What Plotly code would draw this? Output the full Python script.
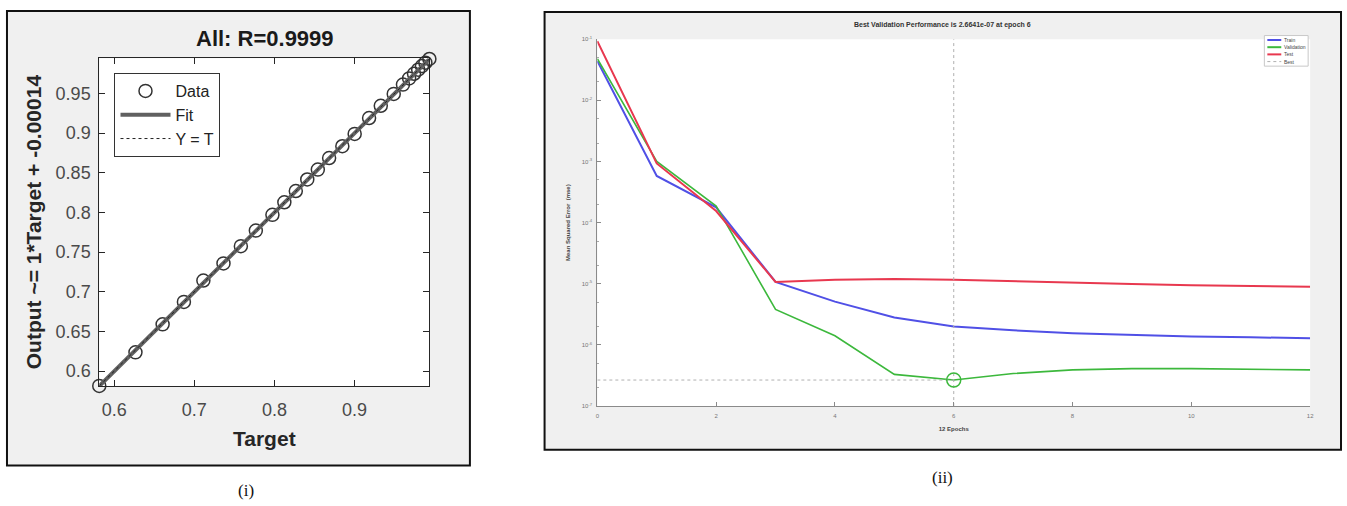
import plotly.graph_objects as go

W, H = 1347, 506

# ---------------- data: panel (i) regression ----------------
targets = [0.5813, 0.6265, 0.6604, 0.6870, 0.7113, 0.7364, 0.7581, 0.7768, 0.7975,
           0.8124, 0.8267, 0.8410, 0.8542, 0.8683, 0.8848, 0.9002, 0.9182, 0.9328,
           0.9490, 0.9605, 0.9682, 0.9743, 0.9795, 0.9842, 0.9885, 0.9935]
outputs = [0.5813, 0.6237, 0.6590, 0.6872, 0.7142, 0.7358, 0.7575, 0.7771, 0.7970,
           0.8128, 0.8270, 0.8416, 0.8540, 0.8686, 0.8835, 0.8990, 0.9190, 0.9345,
           0.9494, 0.9612, 0.9690, 0.9748, 0.9800, 0.9845, 0.9888, 0.9935]
fit_slope = 1.0
fit_offset = -0.00014
r_value = "0.9999"
left_xticks = [0.6, 0.7, 0.8, 0.9]
left_yticks = [0.6, 0.65, 0.7, 0.75, 0.8, 0.85, 0.9, 0.95]

# ---------------- data: panel (ii) performance ----------------
epochs = list(range(13))
train_mse = [4.4e-2, 5.8e-4, 1.78e-4, 1.07e-5, 5.1e-6, 2.8e-6, 2.0e-6, 1.73e-6,
             1.55e-6, 1.44e-6, 1.37e-6, 1.33e-6, 1.29e-6]
val_mse = [4.8e-2, 1.0e-3, 1.87e-4, 3.8e-6, 1.41e-6, 3.3e-7, 2.6641e-7, 3.4e-7,
           3.9e-7, 4.1e-7, 4.1e-7, 4.0e-7, 3.9e-7]
test_mse = [9.3e-2, 9.3e-4, 1.55e-4, 1.07e-5, 1.16e-5, 1.2e-5, 1.16e-5, 1.1e-5,
            1.02e-5, 9.9e-6, 9.5e-6, 9.1e-6, 8.9e-6]
best_epoch = 6
best_perf = 2.6641e-7
right_xticks = [0, 2, 4, 6, 8, 10, 12]
right_yexp = [-7, -6, -5, -4, -3, -2, -1]
perf_names = ["Train", "Validation", "Test", "Best"]

FONT = "Liberation Sans, Arial, sans-serif"
C_TRAIN, C_VAL, C_TEST, C_BEST = "#5050e6", "#3cb83c", "#e8384f", "#b0b0b0"


def px(x):
    return x / W


def py(y):
    return 1 - y / H


fig = go.Figure()

# ---- panel (i) traces ----
xmin, xmax = min(targets), max(targets)
fit_x = [xmin, xmax]
fit_y = [fit_slope * v + fit_offset for v in fit_x]

fig.add_trace(go.Scatter(x=targets, y=outputs, mode="markers", name="Data",
                         marker=dict(symbol="circle-open", size=13, color="#333333",
                                     line=dict(width=1.5)),
                         cliponaxis=False, xaxis="x", yaxis="y"))
fig.add_trace(go.Scatter(x=fit_x, y=fit_y, mode="lines", name="Fit",
                         line=dict(color="#606060", width=4),
                         xaxis="x", yaxis="y"))
fig.add_trace(go.Scatter(x=fit_x, y=fit_x, mode="lines", name="Y = T",
                         line=dict(color="#222222", width=1, dash="dot"),
                         xaxis="x", yaxis="y"))

# ---- panel (ii) traces ----
fig.add_trace(go.Scatter(x=epochs, y=train_mse, mode="lines", name=perf_names[0],
                         line=dict(color=C_TRAIN, width=2), showlegend=False,
                         xaxis="x2", yaxis="y2"))
fig.add_trace(go.Scatter(x=epochs, y=val_mse, mode="lines", name=perf_names[1],
                         line=dict(color=C_VAL, width=1.6), showlegend=False,
                         xaxis="x2", yaxis="y2"))
fig.add_trace(go.Scatter(x=epochs, y=test_mse, mode="lines", name=perf_names[2],
                         line=dict(color=C_TEST, width=2), showlegend=False,
                         xaxis="x2", yaxis="y2"))
fig.add_trace(go.Scatter(x=[0, best_epoch], y=[best_perf, best_perf], mode="lines",
                         name=perf_names[3], line=dict(color=C_BEST, width=1, dash="dot"),
                         showlegend=False, xaxis="x2", yaxis="y2"))
fig.add_trace(go.Scatter(x=[best_epoch, best_epoch],
                         y=[10 ** right_yexp[0], 10 ** right_yexp[-1]], mode="lines",
                         showlegend=False, line=dict(color=C_BEST, width=1, dash="dot"),
                         xaxis="x2", yaxis="y2"))
fig.add_trace(go.Scatter(x=[best_epoch], y=[best_perf], mode="markers", showlegend=False,
                         marker=dict(symbol="circle-open", size=14, color=C_VAL,
                                     line=dict(width=1.5)),
                         xaxis="x2", yaxis="y2"))

# ---- panel backgrounds (gray boxes with black border) and white plot areas ----
shapes = [
    dict(type="rect", xref="paper", yref="paper", x0=px(5), x1=px(470), y0=py(468), y1=py(7),
         fillcolor="#f0f0f0", line=dict(color="#111111", width=2), layer="below"),
    dict(type="rect", xref="paper", yref="paper", x0=px(545), x1=px(1345), y0=py(452), y1=py(8),
         fillcolor="#f0f0f0", line=dict(color="#111111", width=2), layer="below"),
    dict(type="rect", xref="x domain", yref="y domain", x0=0, x1=1, y0=0, y1=1,
         fillcolor="white", line=dict(width=0), layer="below"),
    dict(type="rect", xref="x2 domain", yref="y2 domain", x0=0, x1=1, y0=0, y1=1,
         fillcolor="white", line=dict(width=0), layer="below"),
]

annotations = [
    dict(text="<b>All: R=" + r_value + "</b>", xref="paper", yref="paper", x=px(264), y=py(35),
         showarrow=False, font=dict(family=FONT, size=22, color="#1a1a1a"),
         xanchor="center", yanchor="middle"),
    dict(text="<b>Best Validation Performance is 2.6641e-07 at epoch 6</b>", xref="paper",
         yref="paper", x=px(945), y=py(21), showarrow=False,
         font=dict(family=FONT, size=7, color="#333333"), xanchor="center", yanchor="middle"),
    dict(text="(i)", xref="paper", yref="paper", x=px(245), y=py(493), showarrow=False,
         font=dict(family="Liberation Serif, Times New Roman, serif", size=17, color="#111111"),
         xanchor="center", yanchor="middle"),
    dict(text="(ii)", xref="paper", yref="paper", x=px(945), y=py(480), showarrow=False,
         font=dict(family="Liberation Serif, Times New Roman, serif", size=17, color="#111111"),
         xanchor="center", yanchor="middle"),
]

# ---- compact legend for panel (ii) (MATLAB-style tiny box) ----
leg_x0, leg_x1, leg_y0, leg_y1 = 1268, 1312, 32, 63
shapes.append(dict(type="rect", xref="paper", yref="paper", x0=px(leg_x0), x1=px(leg_x1),
                   y0=py(leg_y1), y1=py(leg_y0), fillcolor="white",
                   line=dict(color="#c8c8c8", width=1), layer="above"))
leg_styles = [(C_TRAIN, 2, "solid"), (C_VAL, 2, "solid"), (C_TEST, 2, "solid"), (C_BEST, 1, "dot")]
for i, (name, (col, wdt, dsh)) in enumerate(zip(perf_names, leg_styles)):
    yy = leg_y0 + 4.5 + i * 7.3
    shapes.append(dict(type="line", xref="paper", yref="paper", x0=px(leg_x0 + 3),
                       x1=px(leg_x0 + 17), y0=py(yy), y1=py(yy),
                       line=dict(color=col, width=wdt, dash=dsh), layer="above"))
    annotations.append(dict(text=name, xref="paper", yref="paper", x=px(leg_x0 + 18), y=py(yy),
                            showarrow=False, xanchor="left", yanchor="middle",
                            font=dict(family=FONT, size=5, color="#444444")))

axis_common_left = dict(showline=True, linecolor="#262626", linewidth=1, mirror="ticks",
                        ticks="inside", ticklen=6, tickcolor="#262626", showgrid=False,
                        zeroline=False, tickfont=dict(family=FONT, size=18, color="#4a4a4a"))
axis_common_right = dict(showline=True, linecolor="#8a8a8a", linewidth=1, mirror=False,
                         ticks="inside", ticklen=4, tickcolor="#8a8a8a", showgrid=False,
                         zeroline=False, tickfont=dict(family=FONT, size=6, color="#777777"))

fig.update_layout(
    width=W, height=H, margin=dict(l=0, r=0, t=0, b=0),
    paper_bgcolor="white", plot_bgcolor="white",
    shapes=shapes, annotations=annotations,
    xaxis=dict(domain=[px(97.7), px(429.3)], anchor="y", range=[xmin, xmax],
               tickvals=left_xticks, ticktext=[str(v) for v in left_xticks],
               ticklabelstandoff=7,
               title=dict(text="<b>Target</b>", font=dict(family=FONT, size=21, color="#262626"),
                          standoff=12),
               **axis_common_left),
    yaxis=dict(domain=[py(387.3), py(55)], anchor="x", range=[xmin, 0.9944],
               tickvals=left_yticks, ticktext=[str(v) for v in left_yticks],
               ticklabelstandoff=4,
               title=dict(text="<b>Output ~= 1*Target + -0.00014</b>",
                          font=dict(family=FONT, size=21, color="#262626"), standoff=8),
               **axis_common_left),
    xaxis2=dict(domain=[px(598), px(1314)], anchor="y2", range=[0, 12],
                tickvals=right_xticks, ticktext=[str(v) for v in right_xticks],
                ticklabelstandoff=4,
                title=dict(text="<b>12 Epochs</b>", font=dict(family=FONT, size=6, color="#444444"),
                           standoff=8),
                **axis_common_right),
    yaxis2=dict(domain=[py(407.7), py(35.7)], anchor="x2", type="log", range=[-7, -1],
                tickvals=[10 ** e for e in right_yexp],
                ticktext=["10<sup>%d</sup>" % e for e in right_yexp],
                ticklabelstandoff=3,
                minor=dict(ticks="inside", ticklen=2, tickcolor="#aaaaaa", dtick="D2"),
                title=dict(text="<b>Mean Squared Error  (mse)</b>",
                           font=dict(family=FONT, size=6, color="#444444"), standoff=10),
                **axis_common_right),
    legend=dict(x=px(113), y=py(70), xanchor="left", yanchor="top", bgcolor="white",
                bordercolor="#333333", borderwidth=1,
                font=dict(family=FONT, size=16, color="#222222"),
                itemwidth=50, tracegroupgap=0),
    showlegend=True,
)

fig.write_html("out.html")
